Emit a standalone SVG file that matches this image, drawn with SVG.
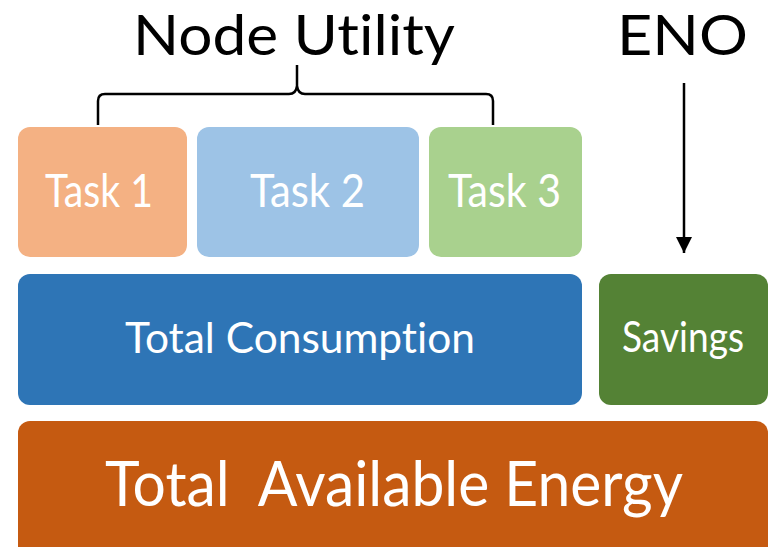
<svg xmlns="http://www.w3.org/2000/svg" width="773" height="547" viewBox="0 0 773 547">
  <defs>
    <style>
      .lbl { font-family: "Lato", "Open Sans", "Liberation Sans", sans-serif; fill: #ffffff; font-variant-ligatures: none; }
      .ttl { font-family: "Lato", "Open Sans", "Liberation Sans", sans-serif; fill: #000000; font-variant-ligatures: none; }
      .edge { fill: none; stroke: #000000; stroke-width: 2.5; }
    </style>
    <marker id="arrowhead" viewBox="0 0 10 10" refX="10" refY="5" markerWidth="6.5" markerHeight="6.5" markerUnits="strokeWidth" orient="auto">
      <path d="M0,0 L10,5 L0,10 Z" fill="#000000"/>
    </marker>
  </defs>
  <rect width="773" height="547" fill="#ffffff"/>

  <!-- headings -->
  <text class="ttl" x="133" y="55" font-size="56" textLength="322" lengthAdjust="spacingAndGlyphs">Node Utility</text>
  <text class="ttl" x="617" y="55" font-size="56" textLength="131" lengthAdjust="spacingAndGlyphs">ENO</text>

  <g id="task1">
    <rect x="18" y="127" width="169" height="130" rx="12" fill="#F4B183"/>
    <text class="lbl" x="45" y="207" font-size="47" textLength="108" lengthAdjust="spacingAndGlyphs">Task 1</text>
  </g>
  <g id="task2">
    <rect x="197" y="127" width="222" height="130" rx="12" fill="#9DC3E6"/>
    <text class="lbl" x="250" y="207" font-size="47" textLength="115" lengthAdjust="spacingAndGlyphs">Task 2</text>
  </g>
  <g id="task3">
    <rect x="429" y="127" width="153" height="130" rx="12" fill="#A9D18E"/>
    <text class="lbl" x="448" y="207" font-size="47" textLength="113" lengthAdjust="spacingAndGlyphs">Task 3</text>
  </g>
  <g id="consumption">
    <rect x="18" y="274" width="564" height="131" rx="12" fill="#2E75B6"/>
    <text class="lbl" x="125" y="353" font-size="42" textLength="350" lengthAdjust="spacingAndGlyphs">Total Consumption</text>
  </g>
  <g id="savings">
    <rect x="599" y="274" width="169" height="131" rx="12" fill="#548235"/>
    <text class="lbl" x="622" y="352" font-size="42" textLength="122" lengthAdjust="spacingAndGlyphs">Savings</text>
  </g>
  <g id="available">
    <rect x="18" y="421" width="750" height="140" rx="12" fill="#C55A11"/>
    <text class="lbl" x="105" y="506" font-size="61" textLength="578" lengthAdjust="spacingAndGlyphs" style="white-space: pre">Total  Available Energy</text>
  </g>

  <g id="connectors">
    <!-- brace over the three tasks -->
    <path class="edge" d="M98,125 V101 Q98,94 105,94 H289 Q296,94 297,86 V65 M297,86 Q298,94 305,94 H486 Q493,94 493,101 V125"/>
    <!-- ENO into savings -->
    <line class="edge" x1="684" y1="83" x2="684" y2="253" marker-end="url(#arrowhead)"/>
  </g>
</svg>
